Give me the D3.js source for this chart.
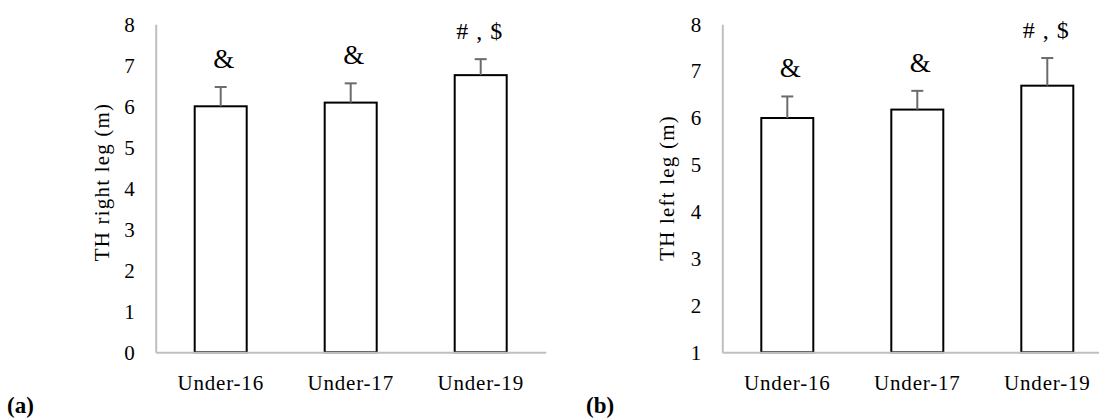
<!DOCTYPE html>
<html>
<head>
<meta charset="utf-8">
<script src="https://cdn.jsdelivr.net/npm/d3@7"></script>
<style>
  html, body { margin: 0; padding: 0; background: #fff; }
  svg { display: block; }
  text { font-family: "Liberation Serif", "Times New Roman", serif; fill: #000; }
</style>
</head>
<body>
<svg id="fig" width="1099" height="419"></svg>
<script>
// Age groups on the x axis
const categories = ["Under-16", "Under-17", "Under-19"];

// Triple hop distance, right leg (m): mean and SD
const rightLegMean = [6.0, 6.09, 6.76];
const rightLegSD = [0.47, 0.47, 0.39];

// Triple hop distance, left leg (m): mean and SD
const leftLegMean = [6.0, 6.18, 6.69];
const leftLegSD = [0.46, 0.40, 0.59];

// Significance markers above each bar
const sigLabels = ["&", "&", "# , $"];

// Y tick values for each panel
const rightTicks = [0, 1, 2, 3, 4, 5, 6, 7, 8];
const leftTicks = [1, 2, 3, 4, 5, 6, 7, 8];

const svg = d3.select("#fig");

function drawPanel(opts) {
  const { x0, top, bottom, width, domain, ticks, means, sds, title, titleY, titleX, tag, tagX } = opts;
  const g = svg.append("g");

  const x = d3.scaleBand()
    .domain(categories)
    .range([x0, x0 + width])
    .paddingInner(0.6)
    .paddingOuter(0.3);

  const y = d3.scaleLinear().domain(domain).range([bottom, top]);

  // y axis: light gray line, no tick marks
  const yAxis = d3.axisLeft(y).tickValues(ticks).tickSize(0).tickPadding(21).tickFormat(d3.format("d"));
  const ya = g.append("g").attr("transform", `translate(${x0},0)`).call(yAxis);
  ya.select(".domain").attr("stroke", "#bfbfbf").attr("stroke-width", 2);
  ya.selectAll("text").attr("font-size", 21).attr("font-family", "Liberation Serif").attr("fill", "#000");

  // bars
  const rows = categories.map((c, i) => ({ c, m: means[i], sd: sds[i], lab: sigLabels[i] }));
  g.selectAll("rect.bar").data(rows).join("rect")
    .attr("class", "bar")
    .attr("x", d => x(d.c))
    .attr("width", x.bandwidth())
    .attr("y", d => y(d.m))
    .attr("height", d => y(domain[0]) - y(d.m))
    .attr("fill", "#fff")
    .attr("stroke", "#000")
    .attr("stroke-width", 2);

  // x axis: light gray baseline with category labels
  const xAxis = d3.axisBottom(x).tickSize(0).tickPadding(23);
  const xa = g.append("g").attr("transform", `translate(0,${bottom})`).call(xAxis);
  xa.select(".domain").attr("stroke", "#bfbfbf").attr("stroke-width", 2);
  xa.selectAll("text").attr("font-size", 21).attr("font-family", "Liberation Serif")
    .attr("fill", "#000").attr("letter-spacing", "0.8px");

  // upper error bars
  const cap = 6;
  rows.forEach(d => {
    const cx = x(d.c) + x.bandwidth() / 2;
    g.append("line")
      .attr("x1", cx).attr("x2", cx)
      .attr("y1", y(d.m)).attr("y2", y(d.m + d.sd))
      .attr("stroke", "#6b6b6b").attr("stroke-width", 2);
    g.append("line")
      .attr("x1", cx - cap).attr("x2", cx + cap)
      .attr("y1", y(d.m + d.sd)).attr("y2", y(d.m + d.sd))
      .attr("stroke", "#6b6b6b").attr("stroke-width", 2);
    // significance marker
    const amp = d.lab === "&";
    g.append("text")
      .attr("x", cx + (amp ? 3 : -1))
      .attr("y", y(d.m + d.sd) - (amp ? 19 : 20))
      .attr("text-anchor", "middle")
      .attr("font-size", amp ? 27 : 24)
      .attr("letter-spacing", amp ? "0px" : "1px")
      .attr("xml:space", "preserve")
      .style("white-space", "pre")
      .text(d.lab);
  });

  // y axis title
  g.append("text")
    .attr("transform", `translate(${titleX},${titleY}) rotate(-90)`)
    .attr("text-anchor", "middle")
    .attr("font-size", 21)
    .attr("letter-spacing", "1.2px")
    .text(title);

  // panel tag
  const t = svg.append("text").attr("x", tagX).attr("y", 413).attr("font-size", 23).attr("font-weight", "bold");
  t.append("tspan").text("(");
  t.append("tspan").text(tag);
  t.append("tspan").text(")");
}

drawPanel({
  x0: 155.7, top: 24.3, bottom: 352.3, width: 390,
  domain: [0, 8], ticks: rightTicks,
  means: rightLegMean, sds: rightLegSD,
  title: "TH right leg (m)", titleX: 109, titleY: 182,
  tag: "a", tagX: 7
});

drawPanel({
  x0: 722.3, top: 24.3, bottom: 352.3, width: 390,
  domain: [1, 8], ticks: leftTicks,
  means: leftLegMean, sds: leftLegSD,
  title: "TH left leg (m)", titleX: 674, titleY: 188,
  tag: "b", tagX: 586
});
</script>
</body>
</html>
